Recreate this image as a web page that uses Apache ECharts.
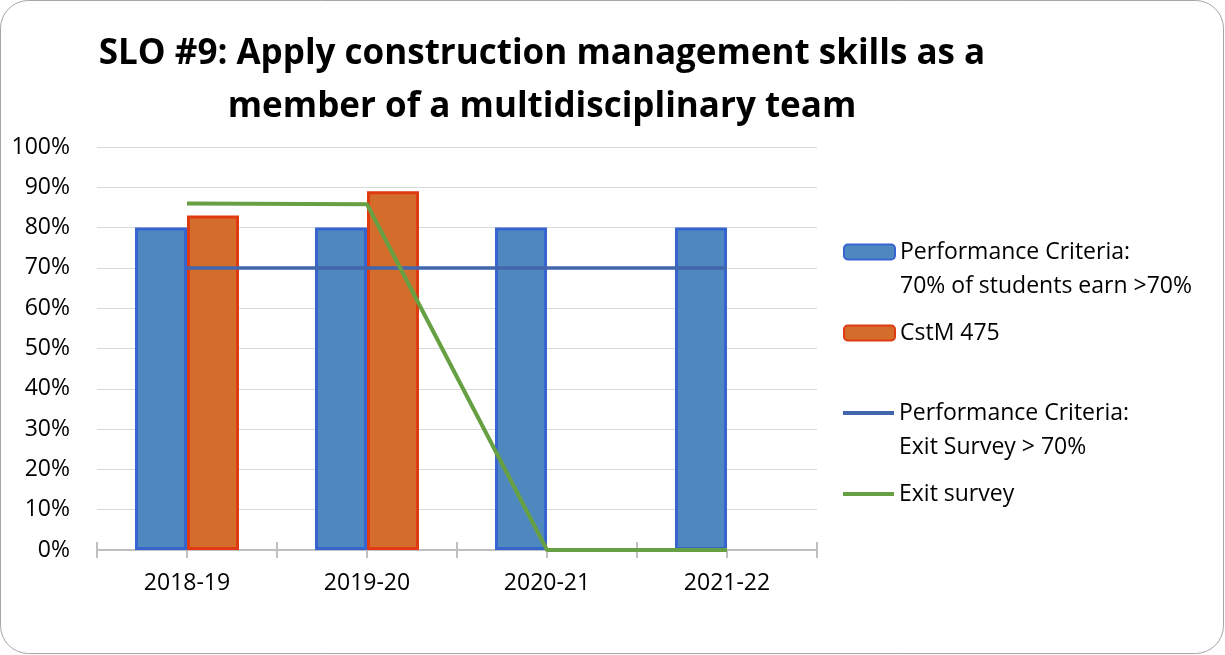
<!DOCTYPE html>
<html>
<head>
<meta charset="utf-8">
<script src="https://cdn.jsdelivr.net/npm/echarts@6/dist/echarts.min.js"></script>
<style>
  html, body { margin: 0; padding: 0; background: #fff; }
  #chart { width: 1225px; height: 655px; }
</style>
</head>
<body>
<div id="chart"></div>
<script>
// data
const categories = ['2018-19', '2019-20', '2020-21', '2021-22']
const criteriaBars = [80, 80, 80, 80]
const cstm475 = [83, 89, null, null]
const criteriaLine = [70, 70, 70, 70]
const exitSurvey = [86, 85.8, 0, 0]

const seriesNames = [
  'Performance Criteria:\n70% of students earn >70%',
  'CstM 475',
  'Performance Criteria:\nExit Survey > 70%',
  'Exit survey'
]

const FONT = 'Open Sans'
const axisGray = '#bfbfbf'
const blueLine = '#4266ae'
const greenLine = '#67a043'

// one legend per item so the icon sits on the first text line
function makeLegend(item, centerY, multiLine, iconH) {
  return {
    data: [item],
    orient: 'vertical',
    left: 843,
    top: multiLine ? centerY - 51 : centerY - 17,
    padding: 0,
    itemWidth: 51,
    itemHeight: iconH,
    itemGap: 0,
    formatter: n => (multiLine ? ' \n' : '') + n,
    textStyle: {
      fontFamily: FONT,
      fontSize: 23,
      color: '#000',
      lineHeight: 34
    }
  }
}

const tickStyle = { color: axisGray, width: 2 }

const chart = echarts.init(document.getElementById('chart'))

chart.setOption({
  animation: false,
  backgroundColor: '#fff',
  title: {
    text: 'SLO #9: Apply construction management skills as a\nmember of a multidisciplinary team',
    left: 542,
    top: 28,
    textAlign: 'center',
    padding: 0,
    textStyle: {
      fontFamily: FONT,
      fontWeight: 'bold',
      fontSize: 35,
      color: '#000',
      lineHeight: 53
    }
  },
  graphic: [
    {
      type: 'rect',
      shape: { x: 0.5, y: 0.5, width: 1223, height: 653, r: 28 },
      style: { fill: 'none', stroke: '#a6a6a6', lineWidth: 1 },
      silent: true
    }
  ],
  legend: [
    makeLegend(seriesNames[0], 252, true, 15),
    makeLegend(seriesNames[1], 333, false, 15),
    makeLegend({ name: seriesNames[2], icon: 'rect', itemStyle: { color: blueLine } }, 413, true, 4),
    makeLegend({ name: seriesNames[3], icon: 'rect', itemStyle: { color: greenLine } }, 494, false, 4)
  ],
  grid: {
    left: 97,
    right: 408,
    top: 147,
    bottom: 105
  },
  xAxis: [
    {
      type: 'category',
      data: categories,
      position: 'bottom',
      boundaryGap: true,
      axisLine: { show: true, lineStyle: { color: axisGray, width: 2 } },
      axisTick: { show: true, length: 8, lineStyle: tickStyle },
      axisLabel: { margin: 22, fontFamily: FONT, fontSize: 23, color: '#000' }
    },
    {
      // boundary ticks also poke up into the plot
      type: 'category',
      data: categories,
      position: 'bottom',
      offset: 0,
      axisLine: { show: false },
      axisTick: { show: true, inside: true, length: 8, lineStyle: tickStyle },
      axisLabel: { show: false },
      splitLine: { show: false }
    },
    {
      // ticks under the category centres
      type: 'category',
      data: categories,
      position: 'bottom',
      offset: 0,
      axisLine: { show: false },
      axisTick: { show: true, alignWithLabel: true, length: 8, lineStyle: tickStyle },
      axisLabel: { show: false },
      splitLine: { show: false }
    }
  ],
  yAxis: {
    type: 'value',
    min: 0,
    max: 100,
    interval: 10,
    axisLine: { show: false },
    axisTick: { show: false },
    splitLine: { lineStyle: { color: '#d9d9d9', width: 1 } },
    axisLabel: {
      formatter: '{value}%',
      margin: 27,
      fontFamily: FONT,
      fontSize: 23,
      color: '#000'
    }
  },
  series: [
    {
      name: seriesNames[0],
      type: 'bar',
      data: criteriaBars,
      barWidth: 52,
      barGap: '0%',
      itemStyle: { color: '#4f88be', borderColor: '#3765cf', borderWidth: 3 }
    },
    {
      name: seriesNames[1],
      type: 'bar',
      data: cstm475,
      barWidth: 52,
      barGap: '0%',
      itemStyle: { color: '#d46c2b', borderColor: '#e03a12', borderWidth: 3 }
    },
    {
      name: seriesNames[2],
      type: 'line',
      data: criteriaLine,
      symbol: 'none',
      color: blueLine,
      lineStyle: { color: blueLine, width: 3.5 },
      z: 5
    },
    {
      name: seriesNames[3],
      type: 'line',
      data: exitSurvey,
      symbol: 'none',
      color: greenLine,
      lineStyle: { color: greenLine, width: 4 },
      z: 6
    }
  ]
})
</script>
</body>
</html>
